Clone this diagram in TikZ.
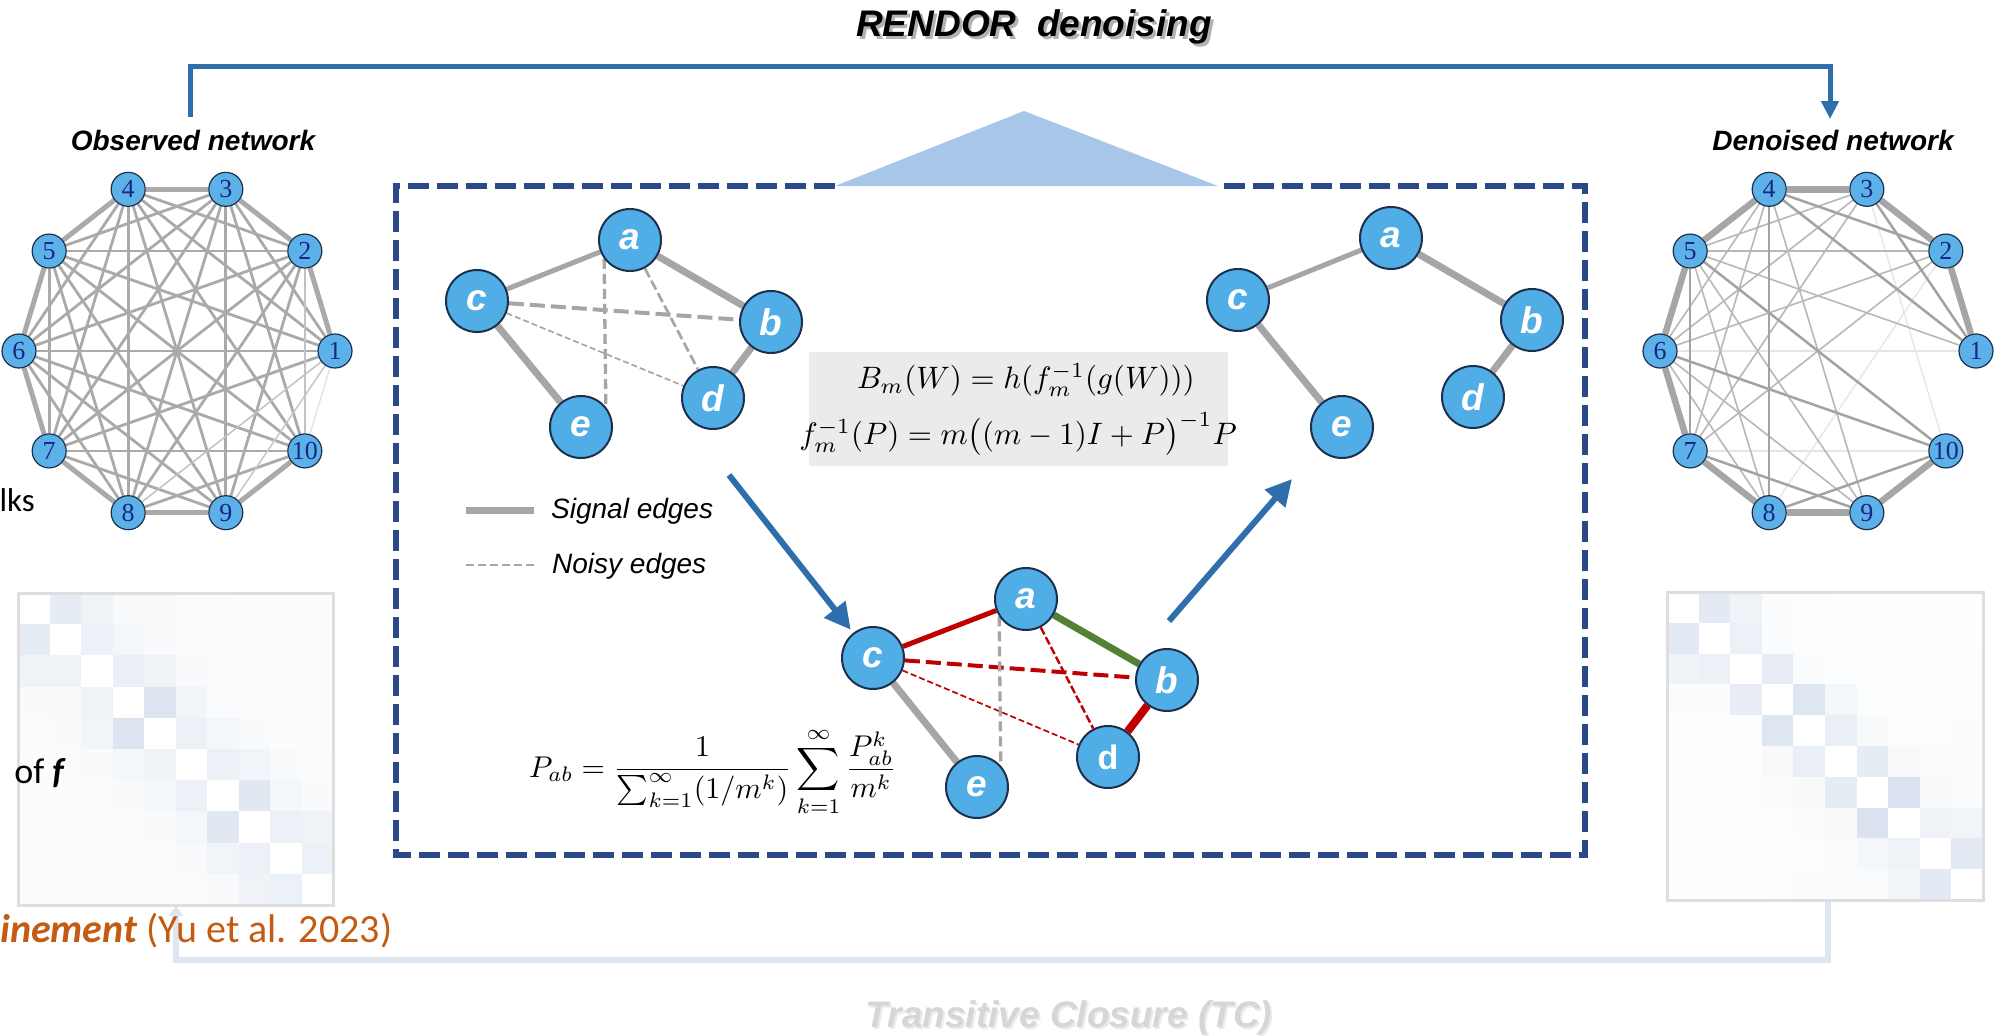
\documentclass[tikz,border=0pt]{standalone}
\usepackage{fontspec}
\usepackage{graphicx}
\usetikzlibrary{arrows.meta,calc}
\newfontfamily\arialf{Liberation Sans}
\newfontfamily\timesf{Liberation Serif}
\newfontfamily\calibrif{Carlito}
\definecolor{nodeblue}{RGB}{80,173,229}
\definecolor{onodeblue}{RGB}{92,178,232}
\definecolor{nodeborder}{RGB}{28,48,78}
\definecolor{numblue}{RGB}{25,38,130}
\definecolor{edgegray}{RGB}{166,166,166}
\definecolor{obsgray}{RGB}{170,170,170}
\definecolor{sigred}{RGB}{192,0,0}
\definecolor{siggreen}{RGB}{84,130,53}
\definecolor{arrowblue}{RGB}{46,110,170}
\definecolor{boxnavy}{RGB}{43,72,136}
\definecolor{trifill}{RGB}{168,198,232}
\definecolor{connpale}{RGB}{222,231,240}
\definecolor{formgray}{RGB}{235,235,235}
\definecolor{matc}{RGB}{118,150,195}
\definecolor{matborder}{RGB}{222,222,222}
\definecolor{orangec}{RGB}{197,90,17}
\definecolor{tcgray}{RGB}{214,214,214}
\pgfdeclarelayer{back}
\pgfdeclarelayer{edges}
\pgfsetlayers{back,edges,main}
\begin{document}
\begin{tikzpicture}[x=1pt,y=-1pt,
  onode/.style={circle, fill=onodeblue, draw=nodeborder, line width=1.2pt, minimum size=34pt, inner sep=0pt, font=\timesf\fontsize{26}{26}\selectfont, text=numblue},
  inode/.style={circle, fill=nodeblue, draw=nodeborder, line width=2pt, minimum size=62pt, inner sep=0pt, font=\arialf\bfseries\itshape\fontsize{37}{37}\selectfont, text=white},
  netlab/.style={font=\arialf\bfseries\itshape\fontsize{28}{28}\selectfont, inner sep=0pt},
  titlef/.style={font=\arialf\bfseries\itshape\fontsize{37}{37}\selectfont, inner sep=0pt},
  legtext/.style={font=\arialf\itshape\fontsize{28}{28}\selectfont, anchor=west, inner sep=0pt},
  sigedge/.style={draw=edgegray, line width=#1},
  barrow/.style={draw=arrowblue, line width=6pt, -{Triangle[length=26pt,width=26pt]}},
  mathf/.style={inner sep=0pt}
]
\useasboundingbox (0,0) rectangle (1995,1036);
\begin{pgfonlayer}{back}
\fill[white] (0,0) rectangle (1995,1036);
\end{pgfonlayer}

% ---------- title and top arrow ----------
\node[titlef, text=black!30] at (1037,30) {RENDOR\ \ denoising};
\node[titlef] (title) at (1034,27) {RENDOR\ \ denoising};
\coordinate (obsTop) at (190,117);
\coordinate (denTop) at (1830,119);
\draw[arrowblue, line width=5pt, -{Triangle[length=18pt,width=17pt]}] (obsTop) -- ++(0,-51) -| (denTop);

% ---------- network labels ----------
\node[netlab] (obslab) at (193,140) {Observed network};
\node[netlab] (denlab) at (1833,140) {Denoised network};

% ---------- observed network ----------
\foreach \k in {1,...,10}
  \node[onode] (L\k) at ({177+158*cos((\k-1)*36)},{351-170*sin((\k-1)*36)}) {\k};
\begin{pgfonlayer}{edges}
\foreach \i/\j in {1/3,1/4,1/5,1/6,1/7,2/4,2/5,2/6,2/7,2/8,2/9,3/5,3/6,3/7,3/8,3/9,3/10,4/6,4/7,4/8,4/9,4/10,5/7,5/8,5/9,5/10,6/8,6/9,6/10,7/9,7/10,8/10}
  \draw[obsgray, line width=2.8pt] (L\i) -- (L\j);
\foreach \i/\j in {1/2,2/3,3/4,4/5,5/6,6/7,7/8,8/9,9/10}
  \draw[obsgray, line width=5pt] (L\i) -- (L\j);
\draw[black!12, line width=1.2pt] (L1) -- (L10);
\draw[black!22, line width=1.5pt] (L1) -- (L9);
\draw[black!24, line width=1.5pt] (L1) -- (L8);
\draw[black!24, line width=1.8pt] (L2) -- (L10);
\end{pgfonlayer}

% ---------- denoised network ----------
\foreach \k in {1,...,10}
  \node[onode] (R\k) at ({1818+158*cos((\k-1)*36)},{351-170*sin((\k-1)*36)}) {\k};
\begin{pgfonlayer}{edges}
\foreach \i/\j in {1/6,7/10,3/10,2/8}
  \draw[black!10, line width=1.3pt] (R\i) -- (R\j);
\foreach \i/\j in {3/5,3/6,2/5,1/5,5/8,5/9,2/6,6/8,6/9,2/7,3/7,4/7,4/9,4/6}
  \draw[black!28, line width=1.6pt] (R\i) -- (R\j);
\foreach \i/\j in {1/3,2/4,1/4,4/8,5/7,5/10,6/10,8/10,7/9}
  \draw[black!36, line width=2.5pt] (R\i) -- (R\j);
\foreach \i/\j in {3/4,4/5,2/3,1/2,5/6,6/7,7/8,8/9,9/10}
  \draw[edgegray, line width=6.5pt] (R\i) -- (R\j);
\end{pgfonlayer}

% ---------- matrices ----------
\foreach \row [count=\i] in {{0,18,12,6,5,4,4,3,3,3},{18,0,14,8,5,4,3,3,3,3},{12,12,0,15,12,5,4,3,3,3},{5,6,12,0,26,10,4,3,3,3},{4,5,10,26,0,14,9,5,3,3},{3,4,5,8,12,0,14,10,5,4},{3,3,4,5,8,14,0,22,8,5},{3,3,3,4,5,8,22,0,14,12},{3,3,3,3,4,6,10,14,0,14},{3,3,3,3,3,4,6,12,14,0}}
  \foreach \v [count=\j] in \row
    \fill[matc!\v!white] ({18+(\j-1)*31.5},{593+(\i-1)*31.2}) rectangle ++(31.6,31.3);
\draw[matborder, line width=3pt] (18,593) rectangle (333,905);

\foreach \row [count=\i] in {{0,20,12,3,2,1,1,1,1,1},{20,0,13,3,2,1,1,1,1,1},{12,13,0,17,3,2,2,1,1,2},{3,3,17,0,24,8,2,1,2,2},{2,2,2,24,0,15,6,2,2,3},{1,2,2,6,15,0,18,6,3,3},{1,1,2,3,6,18,0,27,6,3},{1,1,1,2,3,6,27,0,12,10},{1,1,1,2,2,4,8,12,0,20},{1,1,1,2,3,4,4,10,20,0}}
  \foreach \v [count=\j] in \row
    \fill[matc!\v!white] ({1667+(\j-1)*31.6},{592+(\i-1)*30.8}) rectangle ++(31.7,30.9);
\draw[matborder, line width=3pt] (1667,592) rectangle (1983,900);

% ---------- bottom connector ----------
\coordinate (lmBot) at (176,906);
\coordinate (rmBot) at (1828,902);
\draw[connpale, line width=6pt, -{Triangle[length=10pt,width=14pt]}] (rmBot) -- ++(0,58) -| (lmBot);
\node[titlef, text=black!8] at (1071,1020) {Transitive Closure (TC)};
\node[titlef, text=tcgray] (tc) at (1069,1018) {Transitive Closure (TC)};

% ---------- left cut-off texts ----------
\node[font=\calibrif\fontsize{33}{33}\selectfont, anchor=base east, inner sep=0pt] (lks) at (35,511) {lks};
\node[font=\calibrif\fontsize{36}{36}\selectfont, anchor=base east, inner sep=0pt] (off) at (66,783) {of \textbf{\textit{f}}};
\node[font=\calibrif\fontsize{40}{40}\selectfont, text=orangec, anchor=base west, inner sep=0pt] (yu) at (0,942) {\textbf{\textit{inement}} (Yu et al. 2023)};

% ---------- central dashed box ----------
\coordinate (bx1) at (835,186);
\coordinate (bx2) at (1218,186);
\coordinate (bxTL) at (396,186);
\coordinate (bxBL) at (396,855);
\coordinate (bxBR) at (1585,855);
\coordinate (bxTR) at (1585,186);
\draw[boxnavy, line width=6pt, dash pattern=on 21pt off 8pt] (bx1) -- (bxTL) -- (bxBL) -- (bxBR) -- (bxTR) -- (bx2);
\coordinate (triApex) at (1024,111);
\fill[trifill] (bx1) -- (triApex) -- (bx2) -- cycle;

% ---------- graph 1 (noisy) ----------
\node[inode] (a1) at (630,240) {a};
\node[inode] (b1) at (771,322) {b};
\node[inode] (c1) at (477,301) {c};
\node[inode] (d1) at (713,398) {d};
\node[inode] (e1) at (581,427) {e};
\begin{pgfonlayer}{edges}
\draw[sigedge=5pt] (c1) -- (a1);
\draw[sigedge=7pt] (a1) -- (b1);
\draw[sigedge=7pt] (c1) -- (e1);
\draw[sigedge=7pt] (b1) -- (d1);
\draw[edgegray, line width=4pt, dash pattern=on 15pt off 6pt] (c1) -- (b1);
\draw[edgegray, line width=1.7pt, dash pattern=on 6pt off 3pt] (c1) -- (d1);
\draw[edgegray, line width=2.7pt, dash pattern=on 10pt off 4pt] (a1) -- (d1);
\draw[edgegray, line width=3.3pt, dash pattern=on 10pt off 5pt] (a1.216) -- (e1.39);
\end{pgfonlayer}

% ---------- graph 2 (denoised) ----------
\node[inode] (a2) at (1391,238) {a};
\node[inode] (b2) at (1532,320) {b};
\node[inode] (c2) at (1238,300) {c};
\node[inode] (d2) at (1473,397) {d};
\node[inode] (e2) at (1342,427) {e};
\begin{pgfonlayer}{edges}
\draw[sigedge=5pt] (c2) -- (a2);
\draw[sigedge=7pt] (a2) -- (b2);
\draw[sigedge=7pt] (c2) -- (e2);
\draw[sigedge=7pt] (b2) -- (d2);
\end{pgfonlayer}

% ---------- graph 3 (paths) ----------
\node[inode] (a3) at (1026,599) {a};
\node[inode] (b3) at (1167,680) {b};
\node[inode] (c3) at (873,658) {c};
\node[inode, font=\arialf\bfseries\fontsize{34}{34}\selectfont] (d3) at (1108,757) {d};
\node[inode] (e3) at (977,787) {e};
\begin{pgfonlayer}{edges}
\draw[sigred, line width=5pt] (c3) -- (a3);
\draw[siggreen, line width=7pt] (a3) -- (b3);
\draw[sigred, line width=8pt] (b3) -- (d3);
\draw[sigedge=7pt] (c3) -- (e3);
\draw[sigred, line width=4pt, dash pattern=on 15pt off 6pt] (c3) -- (b3);
\draw[sigred, line width=1.7pt, dash pattern=on 6pt off 3pt] (c3) -- (d3);
\draw[sigred, line width=2.4pt, dash pattern=on 8pt off 3pt] (a3) -- (d3);
\draw[edgegray, line width=3.3pt, dash pattern=on 10pt off 5pt] (a3.213) -- (e3.42);
\end{pgfonlayer}

% ---------- blue process arrows ----------
\coordinate (arr1s) at (729,475);
\draw[barrow, shorten >=4pt] (arr1s) -- (c3);
\coordinate (arr2s) at (1169,621);
\coordinate (arr2e) at (1292,479);
\draw[barrow] (arr2s) -- (arr2e);

% ---------- legend ----------
\coordinate (sigA) at (466,510);
\coordinate (sigB) at (534,510);
\draw[sigedge=7pt] (sigA) -- (sigB);
\node[legtext] (siglab) at (551,511) {Signal edges};
\coordinate (noiA) at (466,565);
\coordinate (noiB) at (537,565);
\draw[edgegray, line width=2.5pt, dash pattern=on 8pt off 4pt] (noiA) -- (noiB);
\node[legtext] (noilab) at (552,566) {Noisy edges};

% ---------- formulas ----------
\fill[formgray] (809,352) rectangle (1228,466);
\node[mathf] (f1) at (1026,380) {\scalebox{3.1}{$B_m(W) = h(f_m^{-1}(g(W)))$}};
\node[mathf] (f2) at (1018,434) {\scalebox{3.1}{$f_m^{-1}(P) = m\bigl((m-1)I + P\bigr)^{-1}P$}};
\node[mathf] (f3) at (713,772) {\scalebox{3.0}{$\displaystyle P_{ab} = \frac{1}{\sum_{k=1}^{\infty}(1/m^k)}\sum_{k=1}^{\infty}\frac{P_{ab}^k}{m^k}$}};
\end{tikzpicture}
\end{document}
